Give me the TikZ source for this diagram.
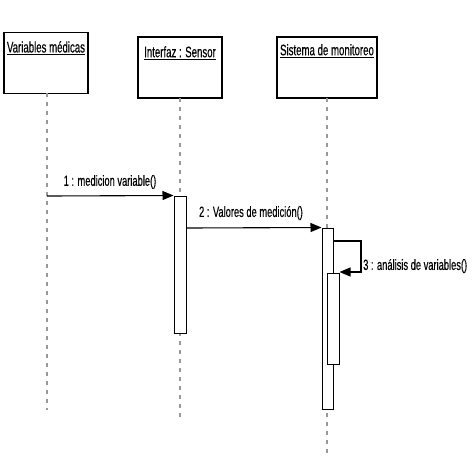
\documentclass[tikz,border=0pt]{standalone}
\usepackage{fontspec}
\newfontfamily\cond[FakeStretch=0.63,FakeBold=0.3]{Liberation Sans}
\usetikzlibrary{arrows.meta}
\begin{document}
\begin{tikzpicture}[x=1pt,y=-1pt,
  headbox/.style={draw, line width=1.1pt, fill=white, minimum width=#1, minimum height=61pt, inner sep=0pt},
  headtxt/.style={font=\cond\fontsize{15.3}{17}\selectfont, inner sep=0pt, anchor=north},
  lifeline/.style={draw=gray!80, line width=1.6pt, dash pattern=on 4pt off 5pt},
  activ/.style={draw, line width=1pt, fill=white, minimum width=#1, inner sep=0pt},
  msg/.style={line width=1.1pt, -{Triangle[length=11pt,width=9pt]}},
  msgtxt/.style={font=\cond\fontsize{14.8}{16}\selectfont, inner sep=0pt}]
\useasboundingbox (0,0) rectangle (473,467);
% lifelines
\coordinate (e1) at (47,410);
\coordinate (e2) at (180,417);
\coordinate (e3) at (327,453);
\node[headbox=84pt] (h1) at (46,63) {};
\node[headbox=84pt] (h2) at (180,67.5) {};
\node[headbox=100pt] (h3) at (327,67.5) {};
\draw[lifeline] (47,93) -- (e1);
\draw[lifeline] (180,98) -- (e2);
\draw[lifeline] (327,98) -- (e3);
\node[headtxt] (t1) at (46,41) {\underline{Variables médicas}};
\node[headtxt] (t2) at (180,46) {\underline{Interfaz : Sensor}};
\node[headtxt] (t3) at (327,44) {\underline{Sistema de monitoreo}};
% activations
\node[activ=12pt, minimum height=137pt] (a1) at (180,264.5) {};
\node[activ=11pt, minimum height=181pt] (a3) at (327.5,318.5) {};
\node[activ=12pt, minimum height=91pt] (a3b) at (333,318.5) {};
% messages
\draw[msg] (47,196) -- (a1.north west);
\node[msgtxt] (l1) at (110,182) {1 : medicion variable()};
\draw[msg] (a1.east |- 0,228) -- (a3.north west);
\node[msgtxt] (l2) at (251,213) {2 : Valores de medición()};
\coordinate (s1) at (361,241);
\draw[msg] (a3.east |- 0,241) -- (s1) |- (a3b.east |- 0,272);
\node[msgtxt, anchor=west] (l3) at (363,266) {3 : análisis de variables()};
\end{tikzpicture}
\end{document}
